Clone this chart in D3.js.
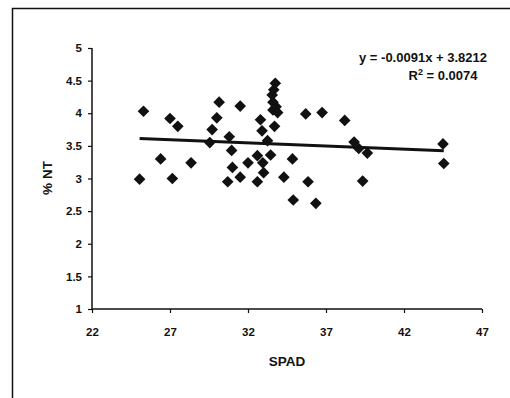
<!DOCTYPE html>
<html>
<head>
<meta charset="utf-8">
<script src="https://cdn.jsdelivr.net/npm/d3@7"></script>
<style>
  body { margin: 0; background: #fff; }
  text { font-family: "Liberation Sans", Arial, sans-serif; font-weight: bold; fill: #111; }
</style>
</head>
<body>
<svg id="chart" width="510" height="398"></svg>
<script>
// SPAD readings and % NT values
const spad = [25.05, 25.3, 26.4, 27.0, 27.15, 27.5, 28.35, 29.55, 29.7, 30.0, 30.15,
    30.7, 30.8, 30.95, 31.0, 31.5, 31.5, 32.0, 32.6, 32.6, 32.8, 32.9, 32.95, 33.0,
    33.25, 33.45, 33.7, 33.75, 33.55, 33.6, 33.8, 33.6, 33.9, 33.65, 34.3, 34.85,
    34.9, 35.7, 35.85, 36.35, 36.75, 38.2, 38.8, 39.1, 39.35, 39.65, 44.5, 44.55];
const pctNT = [2.99, 4.03, 3.30, 3.92, 3.00, 3.80, 3.24, 3.55, 3.75, 3.93, 4.17,
    2.95, 3.64, 3.43, 3.17, 4.11, 3.02, 3.24, 3.35, 2.95, 3.90, 3.73, 3.24, 3.09,
    3.58, 3.36, 3.80, 4.46, 4.28, 4.17, 4.10, 4.05, 4.01, 4.36, 3.02, 3.30,
    2.67, 3.99, 2.95, 2.62, 4.01, 3.89, 3.56, 3.46, 2.96, 3.39, 3.53, 3.23];

const xTicks = [22, 27, 32, 37, 42, 47];
const yTicks = [1, 1.5, 2, 2.5, 3, 3.5, 4, 4.5, 5];

// trendline as printed on the chart
const slope = -0.0091;
const intercept = 3.8212;

const svg = d3.select('#chart');

// outer frame (only the top and left edges show)
svg.append('path')
    .attr('d', 'M12.5,398 L12.5,8.5 L510,8.5')
    .attr('fill', 'none')
    .attr('stroke', '#111')
    .attr('stroke-width', 1.5);

const x = d3.scaleLinear().domain([22, 47]).range([92, 482]);
const y = d3.scaleLinear().domain([1, 5]).range([309, 48]);

const xAxis = svg.append('g')
    .attr('transform', `translate(0,${y(1)})`)
    .call(d3.axisBottom(x).tickValues(xTicks).tickSize(4).tickPadding(15).tickFormat(d3.format('d')));

const yAxis = svg.append('g')
    .attr('transform', `translate(${x(22)},0)`)
    .call(d3.axisLeft(y).tickValues(yTicks).tickSizeInner(4).tickSizeOuter(0).tickPadding(6).tickFormat(d => d));

[xAxis, yAxis].forEach(a => {
    a.select('.domain').attr('stroke', '#111').attr('stroke-width', 1.5);
    a.selectAll('.tick line').attr('stroke', '#111').attr('stroke-width', 1.2);
    a.selectAll('.tick text')
        .attr('fill', '#111')
        .style('font-family', '"Liberation Sans", Arial, sans-serif')
        .style('font-weight', 'bold')
        .style('font-size', '11.5px');
});
yAxis.select('.domain').attr('d', `M0,${y(5)}V${y(1)}`);
xAxis.select('.domain').attr('d', `M${x(22)},0H${x(47)}`);

// axis titles
svg.append('text')
    .attr('x', 287)
    .attr('y', 366)
    .attr('text-anchor', 'middle')
    .style('font-size', '13.5px')
    .text('SPAD');

svg.append('text')
    .attr('transform', 'translate(52,178) rotate(-90)')
    .attr('text-anchor', 'middle')
    .style('font-size', '13.5px')
    .text('% NT');

// trendline
const xMin = d3.min(spad);
const xMax = d3.max(spad);
svg.append('line')
    .attr('x1', x(xMin))
    .attr('y1', y(slope * xMin + intercept + 0.02))
    .attr('x2', x(xMax))
    .attr('y2', y(slope * xMax + intercept + 0.01))
    .attr('stroke', '#111')
    .attr('stroke-width', 3);

// diamonds
const diamond = d3.symbol().type(d3.symbolSquare).size(68);
svg.append('g')
    .selectAll('path')
    .data(spad.map((v, i) => ({ x: v, y: pctNT[i] })))
    .enter()
    .append('path')
    .attr('d', diamond)
    .attr('transform', d => `translate(${x(d.x)},${y(d.y)}) rotate(45)`)
    .attr('fill', '#111');

// equation label
svg.append('text')
    .attr('x', 423)
    .attr('y', 62)
    .attr('text-anchor', 'middle')
    .style('font-size', '13px')
    .text('y = -0.0091x + 3.8212');

const r2 = svg.append('text')
    .attr('x', 443)
    .attr('y', 80)
    .attr('text-anchor', 'middle')
    .style('font-size', '13px');
r2.append('tspan').text('R');
r2.append('tspan').attr('dy', -5).style('font-size', '9px').text('2');
r2.append('tspan').attr('dy', 5).text(' = 0.0074');
</script>
</body>
</html>
